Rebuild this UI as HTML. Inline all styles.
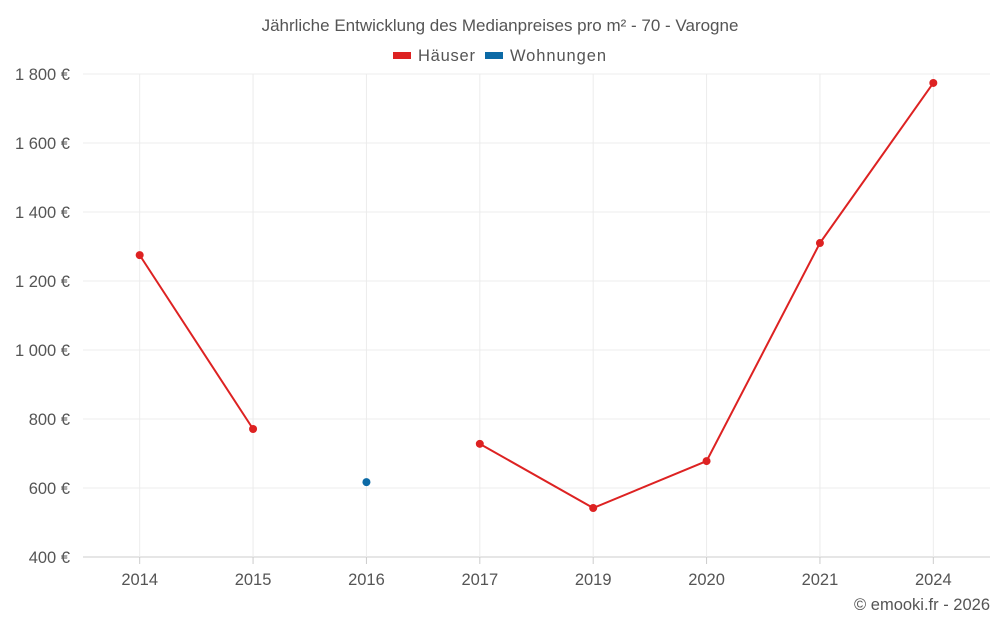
<!DOCTYPE html>
<html><head><meta charset="utf-8"><style>
body{margin:0;background:#fff;font-family:"Liberation Sans",sans-serif;}
svg text{font-family:"Liberation Sans",sans-serif;fill:#555;}
</style></head><body>
<svg id="c" width="1000" height="625">
<text x="500" y="31" text-anchor="middle" font-size="17">Jährliche Entwicklung des Medianpreises pro m² - 70 - Varogne</text>
<g><rect x="393" y="52" width="18" height="7" fill="#dd2222"/><text x="418" y="61" font-size="16.5" textLength="57">Häuser</text></g>
<g><rect x="485" y="52" width="18" height="7" fill="#0c6aa6"/><text x="510" y="61" font-size="16.5" textLength="96">Wohnungen</text></g>
<text x="990" y="610" text-anchor="end" font-size="16.5">© emooki.fr - 2026</text>
<g id="grid"></g><g id="marks"></g>
</svg>
<script>
const categories=["2014","2015","2016","2017","2019","2020","2021","2024"];
const houses=[1275,771,null,728,542,678,1310,1774];
const flats=[null,null,617,null,null,null,null,null];
const yTicks=[400,600,800,1000,1200,1400,1600,1800];
const yLabels=["400 €","600 €","800 €","1 000 €","1 200 €","1 400 €","1 600 €","1 800 €"];
const NS="http://www.w3.org/2000/svg";
const L=83,R=990,T=74,B=557,ymin=400,ymax=1800;
const bw=(R-L)/categories.length;
const xs=i=>L+bw*(i+0.5);
const ys=v=>B-(v-ymin)/(ymax-ymin)*(B-T);
const g=document.getElementById('grid'),m=document.getElementById('marks');
function el(t,a,p){const e=document.createElementNS(NS,t);for(const k in a)e.setAttribute(k,a[k]);p.appendChild(e);return e;}
yTicks.forEach((v,i)=>{
 const ln=el('line',{x1:L,x2:R,y1:ys(v),y2:ys(v),stroke:i==0?'#ccc':'#ececec'},g);
 
 
 const t=el('text',{x:70,y:ys(v)+6,'text-anchor':'end','font-size':16.5},g);t.textContent=yLabels[i];
 
 
});
categories.forEach((c,i)=>{
 const ln=el('line',{x1:xs(i),x2:xs(i),y1:T,y2:B,stroke:'#ececec'},g);
 
 
 const tk=el('line',{x1:xs(i),x2:xs(i),y1:B,y2:B+7,stroke:'#ccc'},g);
 
 
 const t=el('text',{x:xs(i),y:585,'text-anchor':'middle','font-size':16.5},g);t.textContent=c;
 
 
});
function series(data,color,name){
 let d='',pen=false;
 data.forEach((v,i)=>{if(v==null){pen=false;return;}d+=(pen?'L':'M')+xs(i)+' '+ys(v)+' ';pen=true;});
 if(d){const p=el('path',{d:d,fill:'none',stroke:color,'stroke-width':2},m);
 
 }
 data.forEach((v,i)=>{if(v==null)return;
  const c=el('circle',{cx:xs(i),cy:ys(v),r:4,fill:color},m);
  
  });
}
series(houses,'#dd2222','haeuser');
series(flats,'#0c6aa6','wohnungen');
</script>
</body></html>
